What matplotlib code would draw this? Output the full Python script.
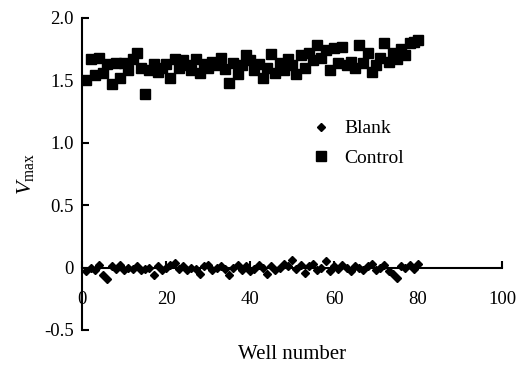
import matplotlib.pyplot as plt
import numpy as np

plt.rcParams['font.family'] = ['Liberation Serif', 'DejaVu Serif']
plt.rcParams['mathtext.fontset'] = 'custom'
plt.rcParams['mathtext.rm'] = 'Liberation Serif'
plt.rcParams['mathtext.it'] = 'Liberation Serif:italic'

wells = np.arange(1, 81)
control = [1.50, 1.67, 1.54, 1.68, 1.56, 1.63, 1.47, 1.64, 1.52, 1.64,
           1.58, 1.67, 1.72, 1.60, 1.39, 1.58, 1.63, 1.57, 1.60, 1.63,
           1.52, 1.67, 1.60, 1.66, 1.62, 1.58, 1.67, 1.56, 1.63, 1.60,
           1.65, 1.62, 1.68, 1.59, 1.48, 1.64, 1.55, 1.62, 1.70, 1.66,
           1.58, 1.63, 1.52, 1.60, 1.71, 1.56, 1.64, 1.58, 1.67, 1.62,
           1.55, 1.70, 1.60, 1.72, 1.66, 1.78, 1.68, 1.74, 1.58, 1.76,
           1.64, 1.77, 1.62, 1.65, 1.60, 1.78, 1.64, 1.72, 1.57, 1.62,
           1.68, 1.80, 1.65, 1.72, 1.67, 1.75, 1.70, 1.80, 1.81, 1.82]
blank = [-0.03, 0.00, -0.02, 0.02, -0.06, -0.09, 0.01, -0.01, 0.02, -0.02,
         0.00, -0.01, 0.01, -0.02, -0.01, 0.00, -0.06, 0.01, -0.02, 0.00,
         0.02, 0.04, -0.01, 0.01, -0.02, 0.00, -0.01, -0.05, 0.01, 0.02,
         -0.02, 0.00, 0.01, -0.01, -0.06, 0.00, 0.02, -0.02, 0.01, -0.03,
         -0.01, 0.02, 0.00, -0.05, 0.01, -0.02, 0.00, 0.03, 0.01, 0.06,
         -0.01, 0.02, -0.04, 0.01, 0.03, -0.02, 0.00, 0.05, -0.03, 0.01,
         -0.01, 0.02, 0.00, -0.03, 0.01, 0.00, -0.02, 0.01, 0.03, -0.02,
         0.00, 0.02, -0.03, -0.05, -0.08, 0.01, 0.00, 0.02, -0.01, 0.03]
xticks = [0, 20, 40, 60, 80, 100]
yticks = [-0.5, 0, 0.5, 1.0, 1.5, 2.0]
ylabels = ['-0.5', '0', '0.5', '1.0', '1.5', '2.0']

fig = plt.figure(figsize=(5.17, 3.67), dpi=100)
ax = fig.add_axes([0.159, 0.101, 0.812, 0.850])

ax.plot(wells, blank, ls='none', marker='D', ms=4.5, color='black', label='Blank')
ax.plot(wells, control, ls='none', marker='s', ms=6.8, color='black', label='Control')

ax.set_xlim(0, 100)
ax.set_ylim(-0.5, 2.0)
ax.spines['top'].set_visible(False)
ax.spines['right'].set_visible(False)
ax.spines['bottom'].set_position(('data', 0))
ax.spines['left'].set_linewidth(1.5)
ax.spines['bottom'].set_linewidth(1.5)

ax.set_xticks(xticks)
ax.set_yticks(yticks)
ax.set_yticklabels(ylabels)
ax.tick_params(axis='both', direction='in', length=5, width=1.5, labelsize=13.5)
ax.tick_params(axis='x', pad=17)
ax.tick_params(axis='y', pad=6)

ax.set_ylabel(r'$V_{\rm max}$', fontsize=16, labelpad=6)
ax.text(0.5, -0.08, 'Well number', transform=ax.transAxes, ha='center', va='center', fontsize=15)

ax.legend(loc='upper left', bbox_to_anchor=(0.48, 0.73), frameon=False, fontsize=14,
          handletextpad=0.2, labelspacing=0.6)

fig.savefig('out.png', dpi=100)
